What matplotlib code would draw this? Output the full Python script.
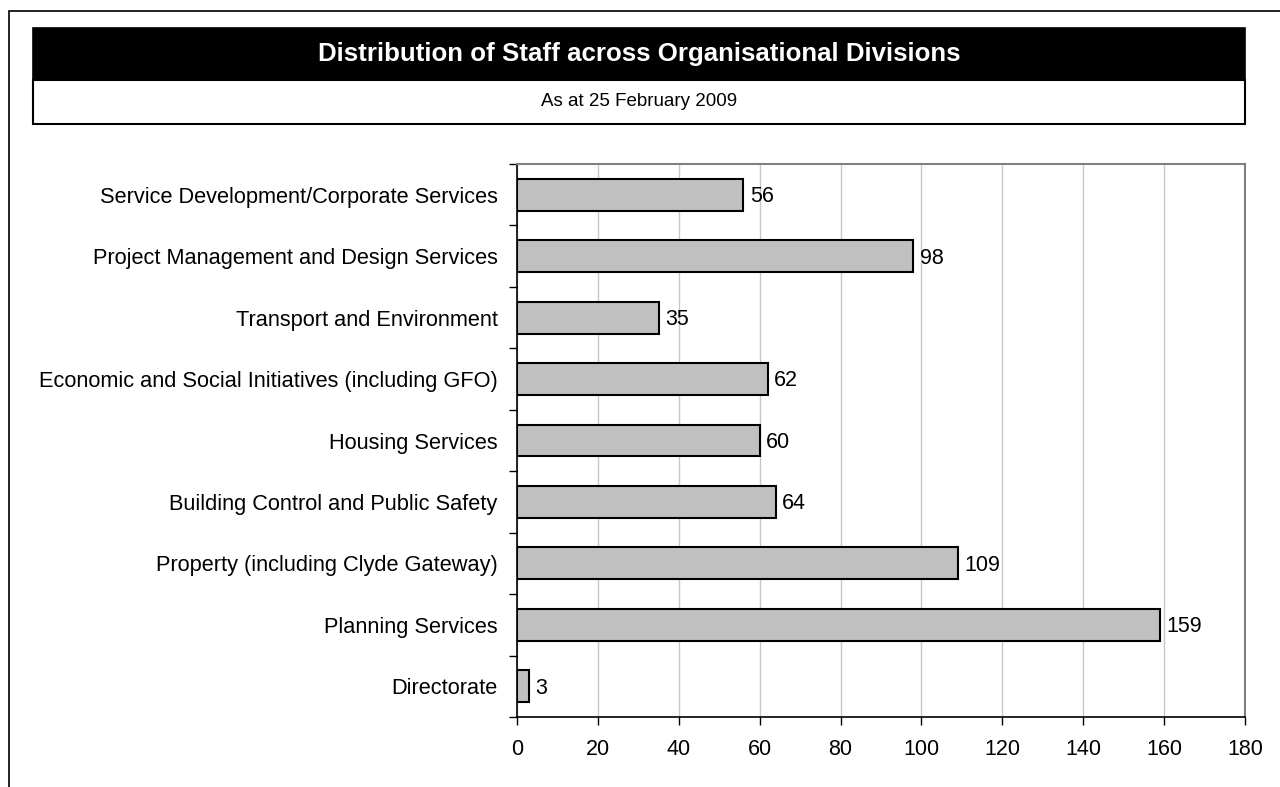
import matplotlib.pyplot as plt
from matplotlib.patches import Rectangle

plt.rcParams['font.family'] = ['Liberation Sans', 'DejaVu Sans']

divisions = [
    "Directorate",
    "Planning Services",
    "Property (including Clyde Gateway)",
    "Building Control and Public Safety",
    "Housing Services",
    "Economic and Social Initiatives (including GFO)",
    "Transport and Environment",
    "Project Management and Design Services",
    "Service Development/Corporate Services",
]
staff = [3, 159, 109, 64, 60, 62, 35, 98, 56]
x_ticks = [0, 20, 40, 60, 80, 100, 120, 140, 160, 180]

W, H = 1280, 787
fig = plt.figure(figsize=(W / 100, H / 100), dpi=100)

def box(x0, y0, x1, y1, **kw):
    # pixel coords (top-left origin) -> figure fraction
    r = Rectangle((x0 / W, 1 - y1 / H), (x1 - x0) / W, (y1 - y0) / H,
                  transform=fig.transFigure, **kw)
    fig.patches.append(r)

# outer frame, runs off the right and bottom edges
box(9, 11, 1290, 800, facecolor='none', edgecolor='black', linewidth=1.2)
# title band + subtitle band
box(33, 28, 1245, 80, facecolor='black', edgecolor='black', linewidth=1.2)
box(33, 80, 1245, 124, facecolor='white', edgecolor='black', linewidth=1.5)
fig.text((33 + 1245) / 2 / W, 1 - 54 / H,
         "Distribution of Staff across Organisational Divisions",
         color='white', fontsize=18.6, fontweight='bold', ha='center', va='center')
fig.text((33 + 1245) / 2 / W, 1 - 102 / H, "As at 25 February 2009",
         color='black', fontsize=13.5, ha='center', va='center')

ax = fig.add_axes([517 / W, 1 - 717 / H, (1245 - 517) / W, (717 - 164) / H])
pos = list(range(len(divisions)))
ax.barh(pos, staff, height=0.52, color='#c0c0c0', edgecolor='black',
        linewidth=1.5, zorder=3)
for p, v in zip(pos, staff):
    ax.text(v + 1.6, p - 0.03, str(v), va='center', ha='left', fontsize=15.5)

ax.set_xlim(0, 180)
ax.set_ylim(-0.5, len(divisions) - 0.5)
ax.set_xticks(x_ticks)
ax.set_xticklabels([str(t) for t in x_ticks], fontsize=15.5)
ax.xaxis.grid(True, color='#c8c8c8', linewidth=1, zorder=0)

# labels centred on bars, tick marks at category boundaries
ax.set_yticks(pos)
ax.set_yticklabels(divisions, fontsize=15.7)
ax.tick_params(axis='y', length=0, pad=14)
ax.set_yticks([p - 0.5 for p in pos] + [len(divisions) - 0.5], minor=True)
ax.tick_params(axis='y', which='minor', length=6, width=1, direction='out')
ax.tick_params(axis='x', length=6, width=1, direction='out', pad=10)

for side in ('left', 'bottom'):
    ax.spines[side].set_color('black')
    ax.spines[side].set_linewidth(1.2)
for side in ('top', 'right'):
    ax.spines[side].set_color('#808080')
    ax.spines[side].set_linewidth(1.5)

fig.savefig('out.png', dpi=100)
